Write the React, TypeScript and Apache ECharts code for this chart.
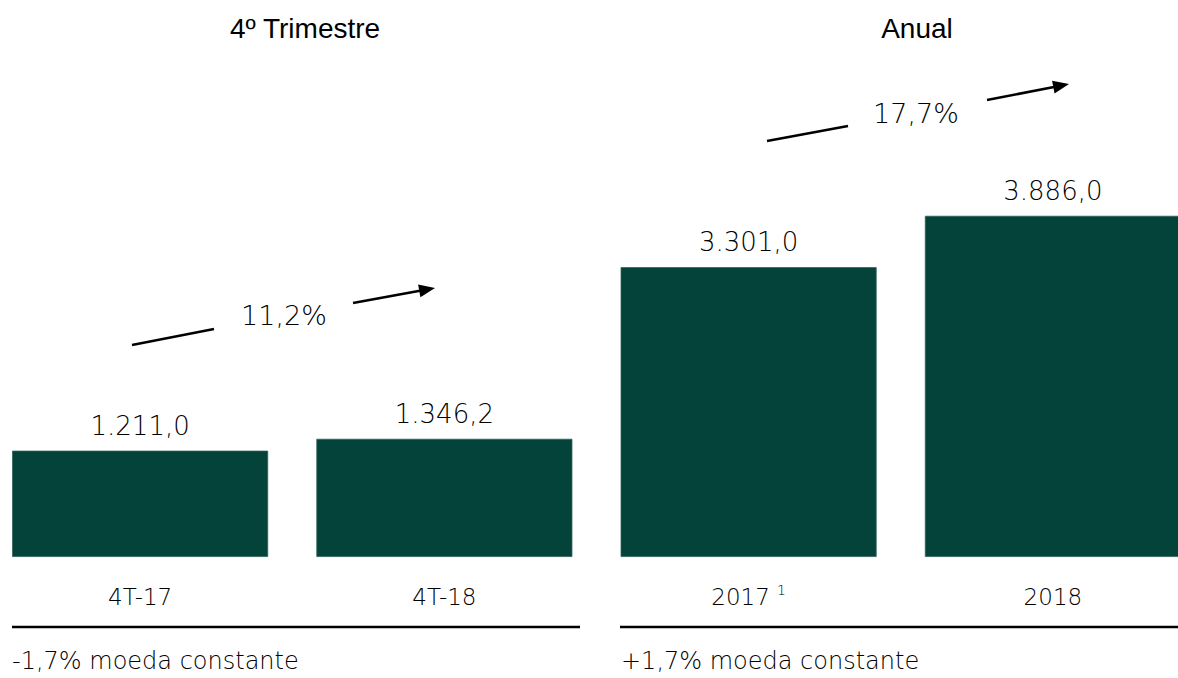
import React, { useEffect, useRef } from "react";
import * as echarts from "echarts";

const categories = ["4T-17", "4T-18", "2017", "2018"];
const values = [1211.0, 1346.2, 3301.0, 3886.0];
const panelTitles = ["4º Trimestre", "Anual"];
const growthLabels = ["11,2%", "17,7%"];
const notes = ["-1,7% moeda constante", "+1,7% moeda constante"];
const footnoteCategory = "2017";
const footnoteMark = "1";

const BAR_COLOR = "#03433A";
const LIGHT_FONT = "'DejaVu Sans', 'Noto Sans', sans-serif";
const OFFSET = 12; // chart canvas starts 12px left of the page

function fmt(v: number): string {
  const fixed = v.toFixed(1);
  const [intPart, dec] = fixed.split(".");
  const withDots = intPart.replace(/\B(?=(\d{3})+(?!\d))/g, ".");
  return withDots + "," + dec;
}

export default function App() {
  const ref = useRef<HTMLDivElement>(null);

  useEffect(() => {
    if (!ref.current) return;
    const chart = echarts.init(ref.current, null, { renderer: "svg" });

    const lineStyle = { stroke: "#000", lineWidth: 2.6 };
    const X = (x: number) => x + OFFSET;

    const makeArrow = (
      s1: [number, number, number, number],
      s2: [number, number, number, number]
    ) => {
      const [ax1, ay1, ax2, ay2] = s2;
      const dx = ax2 - ax1;
      const dy = ay2 - ay1;
      const len = Math.sqrt(dx * dx + dy * dy);
      const ux = dx / len;
      const uy = dy / len;
      const headLen = 16;
      const half = 6.5;
      const bx = ax2 - ux * headLen;
      const by = ay2 - uy * headLen;
      const px = -uy;
      const py = ux;
      return [
        { type: "line", shape: { x1: X(s1[0]), y1: s1[1], x2: X(s1[2]), y2: s1[3] }, style: lineStyle },
        { type: "line", shape: { x1: X(ax1), y1: ay1, x2: X(bx + ux * 2), y2: by + uy * 2 }, style: lineStyle },
        {
          type: "polygon",
          shape: {
            points: [
              [X(ax2), ay2],
              [X(bx + px * half), by + py * half],
              [X(bx - px * half), by - py * half],
            ],
          },
          style: { fill: "#000" },
        },
      ];
    };

    const textEl = (x: number, y: number, text: string, size: number, family: string, weight: any, align: string) => ({
      type: "text",
      x: X(x),
      y,
      style: {
        text,
        fontFamily: family,
        fontWeight: weight,
        fontSize: size,
        fill: "#000",
        textAlign: align,
        textVerticalAlign: "middle",
      },
    });

    const option: any = {
      animation: false,
      backgroundColor: "#ffffff",
      grid: { left: 0, right: 0, top: 118, bottom: 121, containLabel: false },
      xAxis: {
        type: "category",
        data: categories,
        axisLine: { show: false },
        axisTick: { show: false },
        axisLabel: {
          margin: 26,
          fontFamily: LIGHT_FONT,
          fontWeight: 200,
          fontSize: 23,
          color: "#000",
          formatter: (v: string) =>
            v === footnoteCategory ? `{a|${v}} {s|${footnoteMark}}` : `{a|${v}}`,
          rich: {
            a: { fontFamily: LIGHT_FONT, fontWeight: 200, fontSize: 23, color: "#000", lineHeight: 28 },
            s: { fontFamily: LIGHT_FONT, fontWeight: 200, fontSize: 14, color: "#000", verticalAlign: "top", lineHeight: 28, padding: [0, 0, 18, 0] },
          },
        },
      },
      yAxis: {
        type: "value",
        min: 0,
        max: 5000,
        show: false,
        splitLine: { show: false },
      },
      series: [
        {
          type: "bar",
          data: values,
          barWidth: 256,
          itemStyle: { color: BAR_COLOR, borderColor: "#2f5f57", borderWidth: 0.8 },
          label: {
            show: true,
            position: "top",
            distance: 12,
            fontFamily: LIGHT_FONT,
            fontWeight: 200,
            fontSize: 26,
            color: "#000",
            formatter: (p: any) => fmt(p.value),
          },
        },
      ],
      graphic: [
        textEl(305, 28, panelTitles[0], 28, "'Liberation Sans', Arial, sans-serif", "normal", "center"),
        textEl(917, 28, panelTitles[1], 28, "'Liberation Sans', Arial, sans-serif", "normal", "center"),
        textEl(284, 315, growthLabels[0], 27, LIGHT_FONT, 200, "center"),
        textEl(916, 113, growthLabels[1], 27, LIGHT_FONT, 200, "center"),
        ...makeArrow([132, 345, 214, 329], [353, 303, 435, 288]),
        ...makeArrow([767, 141, 848, 126], [987, 100, 1069, 84]),
        { type: "line", shape: { x1: X(12), y1: 627, x2: X(580), y2: 627 }, style: lineStyle },
        { type: "line", shape: { x1: X(620), y1: 627, x2: X(1178), y2: 627 }, style: lineStyle },
        textEl(12, 661, notes[0], 24, LIGHT_FONT, 200, "left"),
        textEl(621, 661, notes[1], 24, LIGHT_FONT, 200, "left"),
      ],
    };

    chart.setOption(option);
    return () => chart.dispose();
  }, []);

  return (
    <div style={{ position: "absolute", left: 0, top: 0, width: 1178, height: 678, overflow: "hidden", background: "#fff" }}>
      <div
        ref={ref}
        style={{ position: "absolute", left: -OFFSET, top: 0, width: 1217, height: 678 }}
      />
    </div>
  );
}
